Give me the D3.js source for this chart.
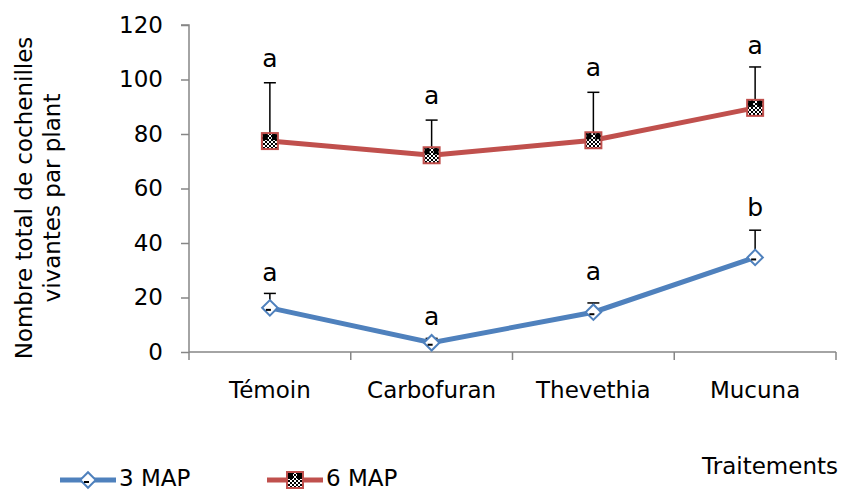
<!DOCTYPE html>
<html lang="fr">
  <head>
    <meta charset="UTF-8" />
    <title>Cochenilles par plant</title>
    <script src="https://d3js.org/d3.v7.min.js"></script>
    <style>
      body {
        margin: 0;
        background: #fff;
      }
      text {
        font-family: "DejaVu Sans", sans-serif;
        fill: #000;
      }
    </style>
  </head>
  <body>
    <div id="chart"></div>
    <script>
      // values
      var categories = ["Témoin", "Carbofuran", "Thevethia", "Mucuna"];
      var map3 = [16.2, 3.4, 14.6, 34.7];
      var map3Err = [5.3, 1.6, 3.4, 10.0];
      var map3Letters = ["a", "a", "a", "b"];
      var map3LetterY = [29.4, 13.2, 29.7, 53.2];
      var map6 = [77.4, 72.2, 77.7, 89.6];
      var map6Err = [21.4, 12.9, 17.6, 15.0];
      var map6Letters = ["a", "a", "a", "a"];
      var map6LetterY = [107.9, 94.3, 104.6, 112.7];
      var yTicks = [0, 20, 40, 60, 80, 100, 120];

      var W = 841,
        H = 492;
      var margin = { top: 25, right: 5, bottom: 140, left: 189 };
      var width = 836 - margin.left,
        height = 352 - margin.top;
      var fs = "23px";

      var blue = "#4f81bd",
        red = "#c0504d",
        axisCol = "#868686";

      var svg = d3
        .select("#chart")
        .append("svg")
        .attr("width", W)
        .attr("height", H);

      // checker pattern for the 6 MAP markers
      var defs = svg.append("defs");
      var pat = defs
        .append("pattern")
        .attr("id", "checker")
        .attr("width", 4)
        .attr("height", 4)
        .attr("patternUnits", "userSpaceOnUse");
      pat.append("rect").attr("width", 4).attr("height", 4).attr("fill", "#fff");
      pat.append("rect").attr("width", 2).attr("height", 2).attr("fill", "#000");
      pat
        .append("rect")
        .attr("x", 2)
        .attr("y", 2)
        .attr("width", 2)
        .attr("height", 2)
        .attr("fill", "#000");

      var g = svg
        .append("g")
        .attr("transform", "translate(" + margin.left + "," + margin.top + ")");

      var x = d3.scaleBand().domain(categories).range([0, width]);
      var y = d3.scaleLinear().domain([0, 120]).range([height, 0]);
      var cx = (c) => x(c) + x.bandwidth() / 2;

      // Y axis
      var yAxis = g
        .append("g")
        .call(d3.axisLeft(y).tickValues(yTicks).tickSize(8).tickPadding(18));
      yAxis.selectAll("line, path").attr("stroke", axisCol).attr("stroke-width", 1.5);
      yAxis.select(".domain").attr("d", "M0," + height + "V0h-8");
      yAxis
        .selectAll("text")
        .style("font-family", "DejaVu Sans, sans-serif")
        .style("font-size", fs);

      // X axis with ticks between categories
      var xAxis = g.append("g").attr("transform", "translate(0," + height + ")");
      xAxis
        .append("line")
        .attr("x1", 0)
        .attr("x2", width)
        .attr("stroke", axisCol)
        .attr("stroke-width", 1.5);
      var bounds = categories.map((c) => x(c)).concat([width]);
      xAxis
        .selectAll(".xt")
        .data(bounds)
        .enter()
        .append("line")
        .attr("x1", (d) => d)
        .attr("x2", (d) => d)
        .attr("y1", 0)
        .attr("y2", 8)
        .attr("stroke", axisCol)
        .attr("stroke-width", 1.5);
      xAxis
        .selectAll(".xl")
        .data(categories)
        .enter()
        .append("text")
        .attr("x", (d) => cx(d))
        .attr("y", 46)
        .attr("text-anchor", "middle")
        .style("font-size", fs)
        .text((d) => d);

      var line = d3
        .line()
        .x((d, i) => cx(categories[i]))
        .y((d) => y(d));

      function series(vals, errs, letters, letterY, color, marker) {
        var s = g.append("g");
        s.append("path")
          .datum(vals)
          .attr("d", line)
          .attr("fill", "none")
          .attr("stroke", color)
          .attr("stroke-width", 5);

        // error bars (plus side only)
        vals.forEach(function (v, i) {
          var px = cx(categories[i]);
          s.append("line")
            .attr("x1", px)
            .attr("x2", px)
            .attr("y1", y(v))
            .attr("y2", y(v + errs[i]))
            .attr("stroke", "#000")
            .attr("stroke-width", 1.5);
          s.append("line")
            .attr("x1", px - 6)
            .attr("x2", px + 6)
            .attr("y1", y(v + errs[i]))
            .attr("y2", y(v + errs[i]))
            .attr("stroke", "#000")
            .attr("stroke-width", 1.5);
          s.append("text")
            .attr("x", px)
            .attr("y", y(letterY[i]))
            .attr("dy", "0.35em")
            .attr("text-anchor", "middle")
            .style("font-size", "25px")
            .text(letters[i]);
          marker(s, px, y(v));
        });
      }

      function diamond(sel, px, py) {
        sel
          .append("path")
          .attr("d", d3.symbol(d3.symbolSquare, 120)())
          .attr("transform", "translate(" + px + "," + py + ") rotate(45)")
          .attr("fill", "#fff")
          .attr("stroke", blue)
          .attr("stroke-width", 2);
        sel
          .append("line")
          .attr("x1", px - 4)
          .attr("x2", px + 1)
          .attr("y1", py + 2)
          .attr("y2", py + 2)
          .attr("stroke", "#000")
          .attr("stroke-width", 2);
      }

      function square(sel, px, py) {
        sel
          .append("rect")
          .attr("x", px - 8)
          .attr("y", py - 8)
          .attr("width", 16)
          .attr("height", 16)
          .attr("fill", "url(#checker)")
          .attr("stroke", red)
          .attr("stroke-width", 2);
        sel
          .append("rect")
          .attr("x", px - 7)
          .attr("y", py - 7)
          .attr("width", 5)
          .attr("height", 6)
          .attr("fill", "#000");
        sel
          .append("rect")
          .attr("x", px + 2)
          .attr("y", py - 7)
          .attr("width", 5)
          .attr("height", 6)
          .attr("fill", "#000");
      }

      series(map6, map6Err, map6Letters, map6LetterY, red, square);
      series(map3, map3Err, map3Letters, map3LetterY, blue, diamond);

      // Y title
      var yt = svg
        .append("text")
        .attr("transform", "translate(38,198) rotate(-90)")
        .attr("text-anchor", "middle")
        .style("font-size", fs);
      yt.append("tspan").attr("x", 0).attr("y", -6).text("Nombre total de cochenilles");
      yt.append("tspan").attr("x", 0).attr("y", 22).text("vivantes par plant");

      // X title
      svg
        .append("text")
        .attr("x", 838)
        .attr("y", 474)
        .attr("text-anchor", "end")
        .style("font-size", fs)
        .text("Traitements");

      // legend
      var legend = [
        { name: "3 MAP", color: blue, marker: diamond, x: 60 },
        { name: "6 MAP", color: red, marker: square, x: 267 },
      ];
      legend.forEach(function (l) {
        var lg = svg.append("g");
        lg.append("line")
          .attr("x1", l.x)
          .attr("x2", l.x + 56)
          .attr("y1", 480)
          .attr("y2", 480)
          .attr("stroke", l.color)
          .attr("stroke-width", 5);
        l.marker(lg, l.x + 28, 480);
        lg.append("text")
          .attr("x", l.x + 59)
          .attr("y", 486)
          .style("font-size", fs)
          .text(l.name);
      });
    </script>
  </body>
</html>
